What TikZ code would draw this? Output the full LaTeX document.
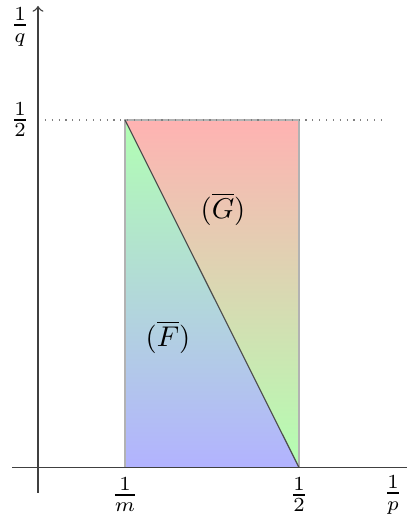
\documentclass[tikz,border=0pt]{standalone}
\begin{document}
\begin{tikzpicture}[x=0.35pt,y=0.35pt,
  axis/.style={draw=black!75, line width=0.5pt},
  region/.style={draw=gray!60, line width=0.4pt},
  diag/.style={draw=black!70, line width=0.4pt},
  guide/.style={draw=gray, dotted, line width=0.4pt},
  lab/.style={inner sep=1pt}]
\useasboundingbox (0,0) rectangle (407,520);
% key points
\coordinate (O) at (38,52.5);
\coordinate (A) at (125,52.5);
\coordinate (B) at (299,52.5);
\coordinate (C) at (125,400);
\coordinate (D) at (299,400);
\coordinate (xs) at (12,52.5);
\coordinate (xe) at (407,52.5);
\coordinate (ys) at (38,27);
\coordinate (ye) at (38,514);
\coordinate (d1) at (38,400);
\coordinate (d2) at (385,400);
% regions
\shade[top color=green!30, bottom color=blue!30] (C) -- (A) -- (B) -- cycle;
\shade[top color=red!30, bottom color=green!30] (C) -- (D) -- (B) -- cycle;
\draw[region] (B) -- (D) -- (C) -- (A);
\draw[diag] (C) -- (B);
% guide and axes
\draw[guide] (d1) -- (d2);
\draw[axis] (xs) -- (xe);
\draw[axis,->] (ys) -- (ye);
% labels
\node[lab] (lm) at (125,25) {$\frac{1}{m}$};
\node[lab] (lh) at (299,25) {$\frac{1}{2}$};
\node[lab] (lp) at (393,25) {$\frac{1}{p}$};
\node[lab] (lq) at (20,493) {$\frac{1}{q}$};
\node[lab] (l2) at (20,400) {$\frac{1}{2}$};
\node[lab] (G) at (223,311) {$(\overline{G})$};
\node[lab] (F) at (168,183) {$(\overline{F})$};
\end{tikzpicture}
\end{document}
